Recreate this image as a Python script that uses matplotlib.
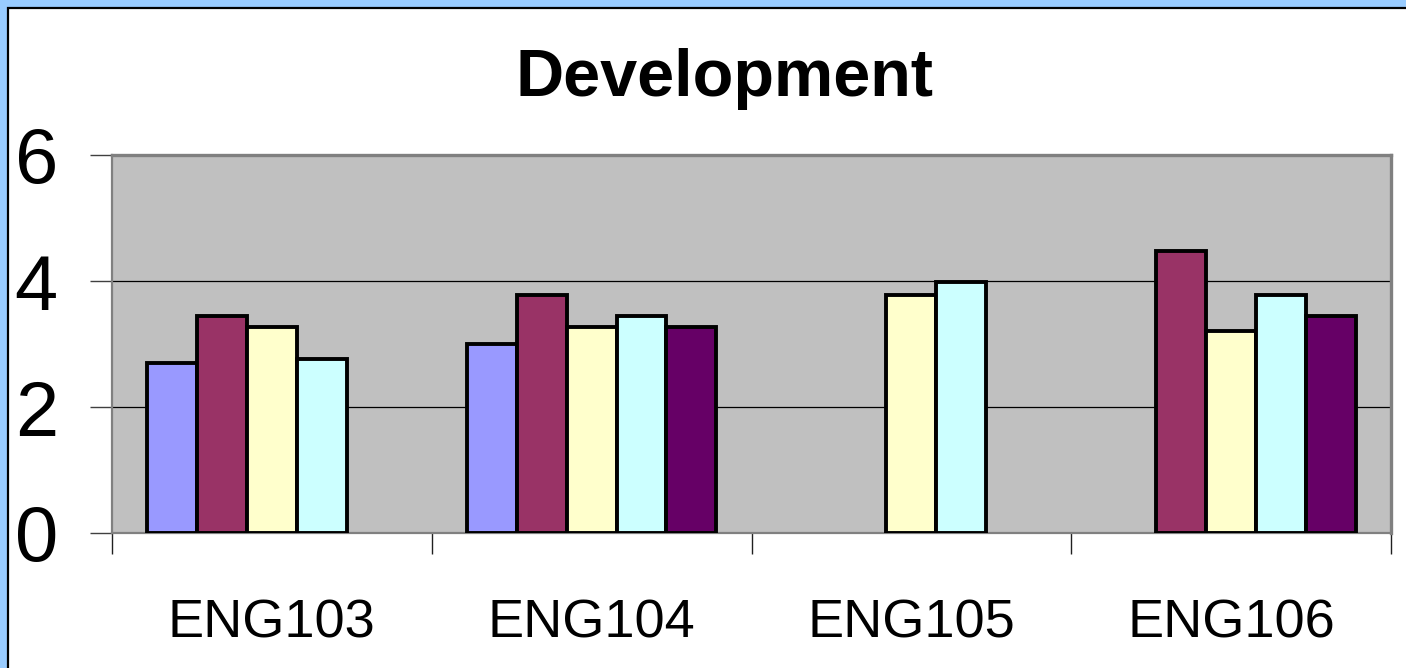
import numpy as np
import matplotlib
matplotlib.use("Agg")
import matplotlib.pyplot as plt
from matplotlib.patches import Rectangle

categories = ["ENG103", "ENG104", "ENG105", "ENG106"]
series_names = ["S1", "S2", "S3", "S4", "S5"]
series_1 = [2.7, 3.0, np.nan, np.nan]
series_2 = [3.45, 3.77, np.nan, 4.47]
series_3 = [3.27, 3.27, 3.78, 3.2]
series_4 = [2.76, 3.45, 3.98, 3.78]
series_5 = [np.nan, 3.27, np.nan, 3.45]
series_colors = ["#9999FF", "#993366", "#FFFFCC", "#CCFFFF", "#660066"]
y_ticks = [0, 2, 4, 6]
title = "Development"

plt.rcParams["font.family"] = ["Liberation Sans", "DejaVu Sans"]

W, H = 1406, 668
fig = plt.figure(figsize=(W / 100, H / 100), dpi=100)
fig.patch.set_facecolor("#99CCFF")
bg = Rectangle((8 / W, -0.2), 1.5, 1.2 - 8 / H, transform=fig.transFigure,
               facecolor="white", edgecolor="black", linewidth=1.6, zorder=-10)
fig.patches.append(bg)

L, R, T, B = 112, 1391, 155, 533
ax = fig.add_axes([L / W, (H - B) / H, (R - L) / W, (B - T) / H])
ax.set_facecolor("#C0C0C0")

all_series = [series_1, series_2, series_3, series_4, series_5]
n = len(all_series)
w = 0.78 / n
x = np.arange(len(categories))
for j, (vals, col) in enumerate(zip(all_series, series_colors)):
    ax.bar(x + (j - (n - 1) / 2) * w, vals, width=w, color=col,
           edgecolor="black", linewidth=2.8, zorder=3)

ax.set_xlim(-0.5, len(categories) - 0.5)
ax.set_ylim(0, 6)
ax.set_yticks(y_ticks)
ax.set_yticklabels([str(t) for t in y_ticks], fontsize=56)
ax.tick_params(axis="y", length=16, width=1.0, color="#404040", pad=23, direction="out")
ax.set_xticks(x)
ax.set_xticklabels(categories, fontsize=39)
ax.set_xticks(np.arange(-0.5, len(categories), 1.0), minor=True)
ax.tick_params(axis="x", which="major", length=0, pad=47)
ax.tick_params(axis="x", which="minor", length=15, width=1.0, color="#202020", direction="out")

ax.grid(axis="y", color="black", linewidth=0.9, zorder=1)
ax.set_axisbelow(True)
for side in ["top", "right"]:
    ax.spines[side].set_color("#808080")
    ax.spines[side].set_linewidth(2.4)
for side in ["left", "bottom"]:
    ax.spines[side].set_color("#808080")
    ax.spines[side].set_linewidth(1.6)

fig.text(724 / W, 1 - 96 / H, title, ha="center", va="baseline",
         fontsize=48, fontweight="bold")

fig.savefig("out.png", dpi=100, facecolor=fig.get_facecolor())
